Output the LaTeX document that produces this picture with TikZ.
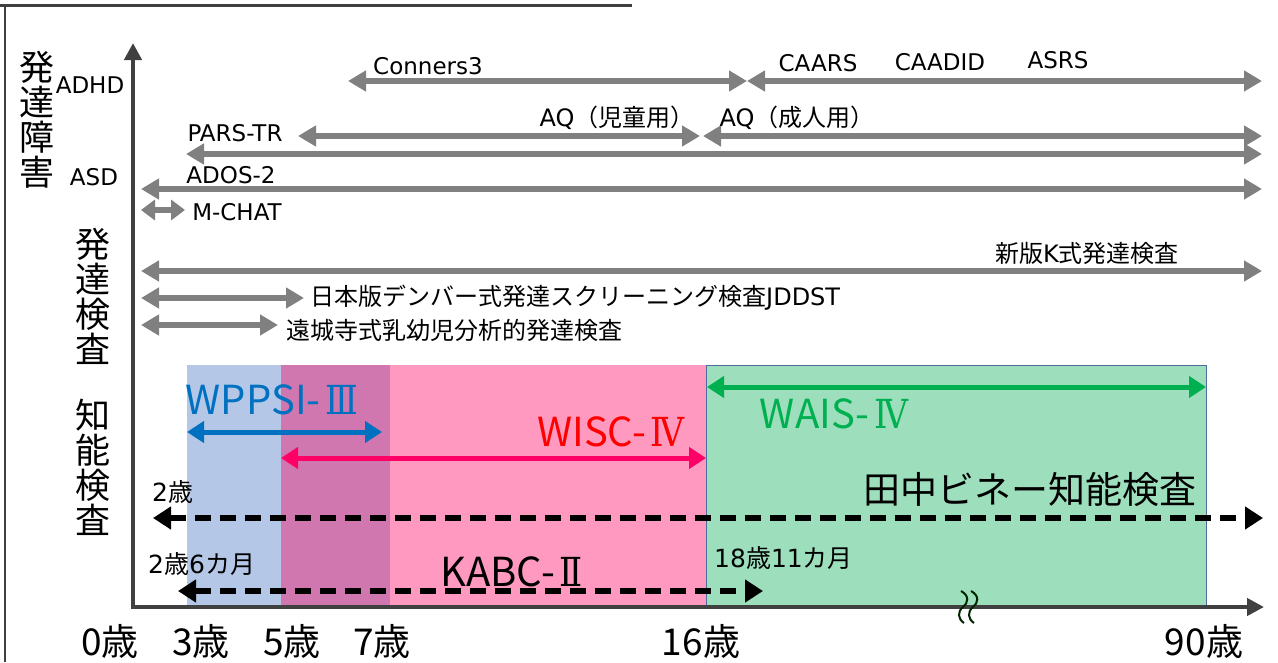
\documentclass[tikz,border=0pt]{standalone}
\usepackage{fontspec}
\setmainfont{DejaVu Sans}
\newfontfamily\jp{Noto Sans CJK JP}
\newfontfamily\rnf{DejaVu Serif}
\usetikzlibrary{arrows.meta}
\definecolor{axisgray}{HTML}{404040}
\definecolor{arrgray}{HTML}{808080}
\definecolor{cblue}{HTML}{B4C7E7}
\definecolor{cpurple}{HTML}{D077B0}
\definecolor{cpink}{HTML}{FF99C0}
\definecolor{cgreen}{HTML}{9DDFBD}
\definecolor{cgborder}{HTML}{4F6D9A}
\definecolor{wpblue}{HTML}{0070C0}
\definecolor{wired}{HTML}{FF0000}
\definecolor{wiarrow}{HTML}{FF0066}
\definecolor{wagreen}{HTML}{00B050}
\newcommand\fs[1]{\fontsize{#1}{#1}\selectfont}
\newcommand\lt[1]{{\rmfamily #1}}
\newcommand\rn[1]{\hspace{0.12em}{\rnf\scalebox{0.85}[1]{#1}}}
\tikzset{
  garrow/.style={draw=arrgray, line width=5.5pt,
    {Triangle[length=18pt,width=20pt]}-{Triangle[length=18pt,width=20pt]}},
  carrow/.style={draw=#1, line width=5pt,
    {Triangle[length=17pt,width=21pt]}-{Triangle[length=17pt,width=21pt]}},
  darrow/.style={draw=black, line width=6pt, dash pattern=on 16pt off 9pt,
    {Triangle[length=18pt,width=22pt]}-{Triangle[length=18pt,width=22pt]}},
  axisline/.style={draw=axisgray, line width=4.5pt,
    {Triangle[length=17pt,width=17pt]}-{Triangle[length=17pt,width=17pt]}},
  lab/.style={inner sep=0pt, font=\fs{23}},
  jlab/.style={inner sep=0pt, font=\jp\fs{24}},
  sage/.style={inner sep=0pt, font=\jp\fs{25}},
  vlab/.style={inner sep=0pt, align=center, font=\jp\fontsize{35}{35}\selectfont},
  biglab/.style={inner sep=0pt, font=\jp\fs{40}},
  agelab/.style={inner sep=0pt, font=\jp\fs{37}},
}
\begin{document}
\begin{tikzpicture}[x=1pt,y=-1pt]
\useasboundingbox (0,0) rectangle (1278,662);
\fill[white] (0,0) rectangle (1278,662);

% age bands
\fill[cblue] (187,365) rectangle (281,605);
\fill[cpurple] (281,365) rectangle (390,605);
\fill[cpink] (390,365) rectangle (706,605);
\filldraw[fill=cgreen, draw=cgborder, line width=1pt] (706,365) rectangle (1206,605);

% frame
\draw[axisgray, line width=3pt] (0,5) -- (632,5);
\draw[axisgray, line width=2pt] (5,5) -- (5,662);

% axes
\coordinate (O) at (133,607);
\coordinate (Ytip) at (133,43);
\coordinate (Xtip) at (1264,607);
\draw[axisline] (Ytip) -- (O) -- (Xtip);

% break mark
\draw[draw=black!85!green, line width=2pt] (961,591) .. controls (970,596) and (968,603) .. (963,607) .. controls (957,612) and (958,619) .. (964,623);
\draw[draw=black!85!green, line width=2pt] (971,591) .. controls (980,596) and (978,603) .. (973,607) .. controls (967,612) and (968,619) .. (974,623);

% left category labels
\node[vlab] (devdis) at (37,120) {発\\達\\障\\害};
\node[vlab] (devtest) at (93,296) {発\\達\\検\\査};
\node[vlab] (iqtest) at (93,467) {知\\能\\検\\査};
\node[lab] (adhd) at (90,85) {ADHD};
\node[lab] (asd) at (94,177) {ASD};

% developmental disorder scales
\coordinate (r1a) at (348,81); \coordinate (r1b) at (747,81); \coordinate (r1c) at (1262,81);
\draw[garrow] (r1a) -- (r1b);
\draw[garrow] (r1b) -- (r1c);
\node[lab] (conners) at (428,66) {Conners3};
\node[lab] (caars) at (818,63) {CAARS};
\node[lab] (caadid) at (940,62) {CAADID};
\node[lab] (asrs) at (1058,60) {ASRS};

\coordinate (r2a) at (298,136); \coordinate (r2b) at (700,136);
\coordinate (r2c) at (703,136); \coordinate (r2d) at (1262,136);
\draw[garrow] (r2a) -- (r2b);
\draw[garrow] (r2c) -- (r2d);
\node[lab, font=\fs{24}] (aqc) at (617,118) {AQ{\jp （児童用）}};
\node[lab, font=\fs{24}] (aqa) at (797,118) {AQ{\jp （成人用）}};
\node[lab] (pars) at (235,133) {PARS-TR};

\coordinate (r3a) at (186,154); \coordinate (r3b) at (1262,154);
\draw[garrow] (r3a) -- (r3b);

\coordinate (r4a) at (141,189); \coordinate (r4b) at (1262,189);
\draw[garrow] (r4a) -- (r4b);
\node[lab] (ados) at (231,175) {ADOS-2};

\coordinate (r5a) at (141,210); \coordinate (r5b) at (185,210);
\draw[garrow, {Triangle[length=14pt,width=20pt]}-{Triangle[length=14pt,width=20pt]}] (r5a) -- (r5b);
\node[lab] (mchat) at (237,212) {M-CHAT};

% developmental tests
\coordinate (k1a) at (141,271); \coordinate (k1b) at (1262,271);
\draw[garrow] (k1a) -- (k1b);
\node[jlab] (kshiki) at (1087,253) {新版\lt{K}式発達検査};

\coordinate (k2a) at (141,298); \coordinate (k2b) at (304,298);
\draw[garrow] (k2a) -- (k2b);
\node[jlab, anchor=west] (jddst) at (310,298) {日本版デンバー式発達スクリーニング検査\lt{JDDST}};

\coordinate (k3a) at (141,325); \coordinate (k3b) at (278,325);
\draw[garrow] (k3a) -- (k3b);
\node[jlab, anchor=west] (enjoji) at (286,330) {遠城寺式乳幼児分析的発達検査};

% intelligence tests
\coordinate (w1a) at (187,432); \coordinate (w1b) at (382,432);
\draw[carrow=wpblue] (w1a) -- (w1b);
\node[biglab, text=wpblue] (wppsi) at (272,400) {WPPSI-\rn{Ⅲ}};

\coordinate (w2a) at (281,458); \coordinate (w2b) at (706,458);
\draw[carrow=wiarrow] (w2a) -- (w2b);
\node[biglab, text=wired] (wisc) at (611,432) {WISC-\rn{Ⅳ}};

\coordinate (w3a) at (707,387); \coordinate (w3b) at (1206,387);
\draw[carrow=wagreen] (w3a) -- (w3b);
\node[biglab, text=wagreen] (wais) at (834,414) {WAIS-\rn{Ⅳ}};

\coordinate (t1a) at (153,518); \coordinate (t1b) at (1263,518);
\draw[darrow] (t1a) -- (t1b);
\node[inner sep=0pt, font=\jp\fs{37}] (tanaka) at (1030,490) {田中ビネー知能検査};
\node[sage, anchor=west] (two) at (152,492) {\lt{2}歳};

\coordinate (kaa) at (178,591); \coordinate (kab) at (763,591);
\draw[darrow] (kaa) -- (kab);
\node[biglab] (kabc) at (512,572) {KABC-\rn{Ⅱ}};
\node[sage, anchor=west] (kabcmin) at (148,564) {\lt{2}歳\lt{6}カ月};
\node[sage, anchor=west] (kabcmax) at (714,558) {\lt{18}歳\lt{11}カ月};

% age axis labels
\node[agelab] (a0) at (110,641) {0歳};
\node[agelab] (a3) at (201,641) {3歳};
\node[agelab] (a5) at (292,641) {5歳};
\node[agelab] (a7) at (382,641) {7歳};
\node[agelab] (a16) at (701,641) {16歳};
\node[agelab] (a90) at (1204,641) {90歳};
\end{tikzpicture}
\end{document}
